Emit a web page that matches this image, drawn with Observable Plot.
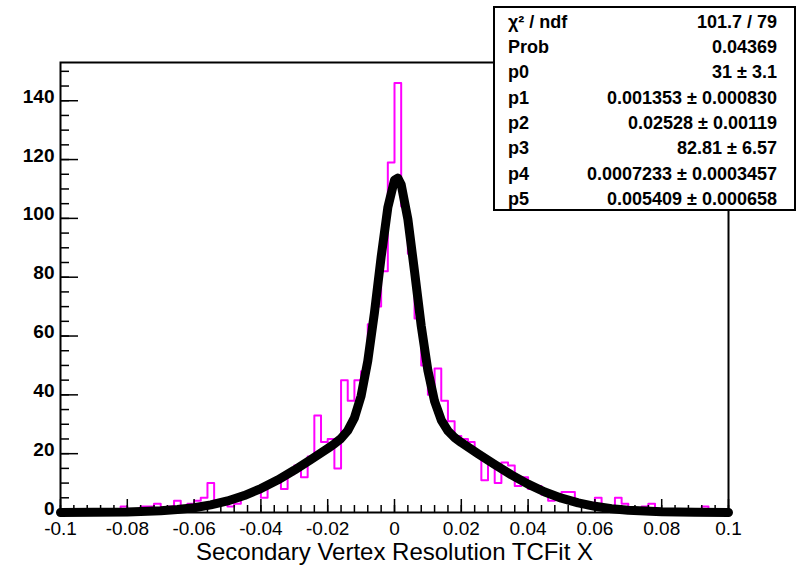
<!DOCTYPE html>
<html><head><meta charset="utf-8">
<script src="https://cdn.jsdelivr.net/npm/d3@7"></script>
<script src="https://cdn.jsdelivr.net/npm/@observablehq/plot@0.6"></script>
<style>body{margin:0;background:#fff;} #chart{width:798px;height:573px;}</style>
</head><body><div id="chart"></div>
<script>
// Histogram definition: 100 bins over [-0.1, 0.1]
const xMin = -0.1, xMax = 0.1, binWidth = 0.002;
const binCounts = [
  0,0,0,1,0,0,1,0,1,2,
  1,1,2,2,3,1,2,4,2,3,
  4,5,10,4,3,2,3,6,7,7,
  5,10,11,8,13,16,12,19,33,24,
  25,15,45,38,45,48,64,70,82,119,
  146,104,88,66,50,40,49,38,31,26,
  25,24,20,11,17,10,17,16,9,12,
  8,9,6,4,5,7,7,3,2,3,
  5,2,2,5,3,1,1,2,3,0,
  1,1,0,0,1,0,2,1,0,0
];
// Fitted curve
const fitX = [-0.1,-0.09,-0.08,-0.07,-0.065,-0.06,-0.055,-0.05,-0.045,-0.04,-0.035,-0.03,-0.025,-0.02,-0.018,-0.016,-0.014,-0.012,-0.01,-0.008,-0.006,-0.004,-0.002,0,0.001,0.002,0.004,0.006,0.008,0.01,0.012,0.014,0.016,0.018,0.02,0.025,0.03,0.035,0.04,0.045,0.05,0.055,0.06,0.065,0.07,0.08,0.09,0.1];
const fitY = [0.01,0.045,0.175,0.58,0.99,1.63,2.58,3.94,5.77,8.14,11.02,14.37,18.0,21.75,23.34,25.19,27.82,32.17,39.63,51.51,67.97,86.87,103.69,113.03,113.7,111.52,99.76,81.94,63.45,48.26,37.79,31.42,27.74,25.46,23.77,20.01,16.31,12.78,9.63,6.98,4.87,3.26,2.1,1.3,0.78,0.25,0.07,0.015];

const xMajorTicks = [-0.1,-0.08,-0.06,-0.04,-0.02,0,0.02,0.04,0.06,0.08,0.1];
const xTickLabels = ["-0.1","-0.08","-0.06","-0.04","-0.02","0","0.02","0.04","0.06","0.08","0.1"];
const xMinorTicks = d3.range(0, 51).map(i => +(-0.1 + i * 0.004).toFixed(3));
const yMajorTicks = [0,20,40,60,80,100,120,140];
const yMinorTicks = d3.range(0, 31).map(i => i * 5);
const xTitle = "Secondary Vertex Resolution TCFit X";

const statLabels = ["χ² / ndf","Prob","p0","p1","p2","p3","p4","p5"];
const statValues = ["101.7 / 79","0.04369","31 ± 3.1","0.001353 ± 0.000830","0.02528 ± 0.00119","82.81 ± 6.57","0.0007233 ± 0.0003457","0.005409 ± 0.000658"];

const histData = binCounts.map((c, i) => ({x: xMin + i * binWidth, y: c}));
histData.push({x: xMax, y: binCounts[binCounts.length - 1]});
const fitData = fitX.map((x, i) => ({x, y: fitY[i]}));

const font = "'Liberation Sans', Arial, Helvetica, sans-serif";
const labelMap = new Map(xMajorTicks.map((t, i) => [t, xTickLabels[i]]));

const plot = Plot.plot({
  width: 798, height: 573,
  marginTop: 62, marginBottom: 61, marginLeft: 60, marginRight: 70,
  x: {domain: [xMin, xMax], label: null},
  y: {domain: [0, 153], label: null},
  style: {fontFamily: font, color: "#000", background: "#fff", overflow: "visible"},
  marks: [
    Plot.line(histData, {x: "x", y: "y", curve: "step-after", stroke: "#ff00ff", strokeWidth: 2}),
    Plot.line(fitData, {x: "x", y: "y", stroke: "#000", strokeWidth: 9, strokeLinejoin: "round", strokeLinecap: "round"}),
    Plot.frame({stroke: "#000", strokeWidth: 2}),
    Plot.axisX({ticks: xMinorTicks, tickSize: -7, tickFormat: () => "", strokeWidth: 1.5, label: null}),
    Plot.axisX({ticks: xMajorTicks, tickSize: -13, tickFormat: () => "", strokeWidth: 1.5, label: null}),
    Plot.axisX({ticks: xMajorTicks, tickSize: 0, tickPadding: 9, fontSize: 19, tickFormat: d => labelMap.get(d) ?? "", label: null}),
    Plot.axisY({ticks: yMinorTicks, tickSize: -9, tickFormat: () => "", strokeWidth: 1.5, label: null}),
    Plot.axisY({ticks: yMajorTicks, tickSize: 0, tickPadding: 6, fontSize: 19, fontWeight: "bold", dy: -4, label: null}),
    Plot.axisY({ticks: yMajorTicks, tickSize: -18, tickFormat: () => "", strokeWidth: 1.5, label: null}),
    Plot.text([xTitle], {text: d => d, frameAnchor: "bottom", dy: 47, fontSize: 24})
  ]
});

document.getElementById("chart").appendChild(plot);

// Fit statistics box
const svg = d3.select(plot);
const g = svg.append("g").attr("font-family", font).attr("font-weight", "bold").attr("font-size", 18).attr("fill", "#000");
g.append("rect").attr("x", 494).attr("y", 7).attr("width", 301).attr("height", 203)
  .attr("fill", "#fff").attr("stroke", "#000").attr("stroke-width", 2);
statLabels.forEach((lab, i) => {
  const cy = 23 + i * 25.3;
  g.append("text").attr("x", 508).attr("y", cy).attr("dominant-baseline", "middle").attr("text-anchor", "start").text(lab);
  g.append("text").attr("x", 777).attr("y", cy).attr("dominant-baseline", "middle").attr("text-anchor", "end").text(statValues[i]);
});
</script>
</body></html>
